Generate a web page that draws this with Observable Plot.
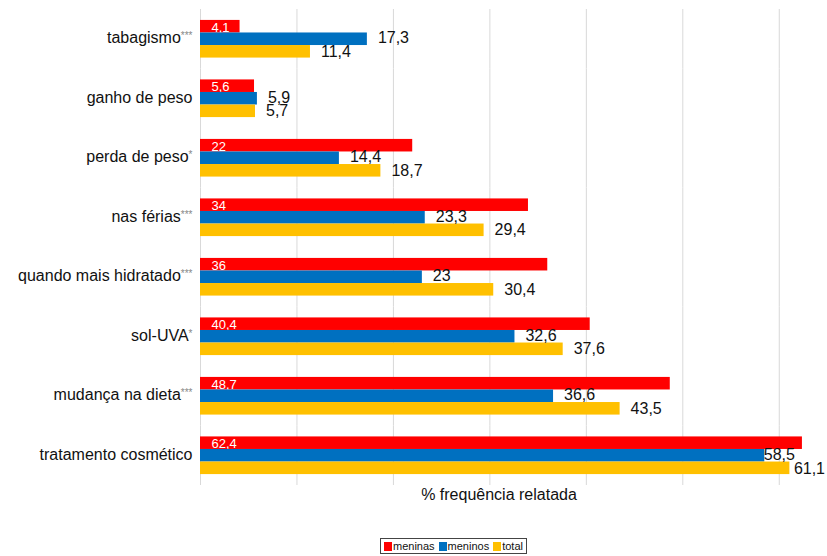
<!DOCTYPE html>
<html>
<head>
<meta charset="utf-8">
<script src="https://cdn.jsdelivr.net/npm/d3@7"></script>
<script src="https://cdn.jsdelivr.net/npm/@observablehq/plot@0.6"></script>
<style>
  body { margin: 0; background: #fff; font-family: "Liberation Sans", Arial, Helvetica, sans-serif; }
  #wrap { position: relative; width: 827px; height: 556px; }
  #xlabel { position: absolute; top: 486px; left: 399px; width: 200px; text-align: center; font-size: 16px; color: #111; }
  #legend { position: absolute; top: 538px; left: 380px; height: 14px; border: 1px solid #444; padding: 0 3px 0 3px; font-size: 11px; line-height: 14px; display: flex; align-items: center; white-space: nowrap; color: #111; }
  #legend .sw { display: inline-block; width: 8px; height: 9px; margin-right: 1px; }
  #legend .it { margin-right: 4px; display: flex; align-items: center; }
  #legend .it:last-child { margin-right: 0; }
</style>
</head>
<body>
<div id="wrap">
  <div id="chart"></div>
  <div id="xlabel">% frequência relatada</div>
  <div id="legend"></div>
</div>
<script>
const categories = ["tabagismo***", "ganho de peso", "perda de peso*", "nas férias***", "quando mais hidratado***", "sol-UVA*", "mudança na dieta***", "tratamento cosmético"];
const series = ["meninas", "meninos", "total"];
const colors = ["#FF0000", "#0070C0", "#FFC000"];
const meninas = [4.1, 5.6, 22, 34, 36, 40.4, 48.7, 62.4];
const meninos = [17.3, 5.9, 14.4, 23.3, 23, 32.6, 36.6, 58.5];
const total = [11.4, 5.7, 18.7, 29.4, 30.4, 37.6, 43.5, 61.1];
const xTicks = [0, 10, 20, 30, 40, 50, 60];

const values = {meninas, meninos, total};
const data = [];
categories.forEach((c, i) => series.forEach(s => data.push({category: c, series: s, value: values[s][i]})));
const fmt = v => String(v).replace(".", ",");
const lastCat = categories[categories.length - 1];
const girls = data.filter(d => d.series === "meninas");
const others = data.filter(d => d.series !== "meninas");
const boys = others.filter(d => d.series === "meninos" && d.category !== lastCat);
const all = others.filter(d => d.series === "total" && d.category !== lastCat);
const boysLast = others.filter(d => d.series === "meninos" && d.category === lastCat);
const allLast = others.filter(d => d.series === "total" && d.category === lastCat);

const txt = (rows, dx, dy) => Plot.text(rows, {x: "value", y: "series", fy: "category", text: d => fmt(d.value), textAnchor: "start", dx, dy, fill: "#111", fontSize: 16});

const chart = Plot.plot({
  width: 827,
  height: 500,
  marginLeft: 200,
  marginRight: 0,
  marginTop: 9,
  marginBottom: 15,
  style: {fontFamily: "'Liberation Sans', Arial, Helvetica, sans-serif", fontSize: "16px", overflow: "visible"},
  x: {domain: [0, 65], axis: null},
  fy: {domain: categories, padding: 0, round: false},
  y: {domain: series, paddingInner: 0, paddingOuter: 0.87, round: false, axis: null},
  color: {domain: series, range: colors},
  marks: [
    Plot.ruleX(xTicks, {x: d => d, stroke: "#d9d9d9", strokeWidth: 1}),
    Plot.barX(girls, {x: "value", y: "series", fy: "category", fill: "series"}),
    Plot.text(girls, {x: 0, y: "series", fy: "category", text: d => fmt(d.value), textAnchor: "start", dx: 11, dy: 1, fill: "white", fontSize: 13}),
    Plot.barX(others, {x: "value", y: "series", fy: "category", fill: "series"}),
    txt(boys, 10.5, -1),
    txt(all, 10.5, 0),
    txt(boysLast, -1, -1),
    txt(allLast, 4, 1),
    Plot.axisFy({anchor: "left", tickSize: 0, tickPadding: 8, label: null, fontSize: 16, fill: "#111", dy: -1})
  ]
});
document.getElementById("chart").appendChild(chart);

// superscript asterisks on category labels
d3.select(chart).selectAll("text").each(function() {
  if (this.querySelector("tspan")) {
    d3.select(this).selectAll("tspan").each(function() { split(this); });
  } else split(this);
});
function split(el) {
  const t = el.textContent;
  const m = t.match(/^(.*?)(\*+)$/);
  if (m) {
    el.textContent = m[1];
    d3.select(el).append("tspan").attr("font-size", 10).attr("fill", "#888").attr("dy", -4).text(m[2]);
  }
}

const lg = d3.select("#legend");
series.forEach((s, i) => {
  const it = lg.append("span").attr("class", "it");
  it.append("span").attr("class", "sw").style("background", colors[i]);
  it.append("span").text(s);
});
</script>
</body>
</html>
